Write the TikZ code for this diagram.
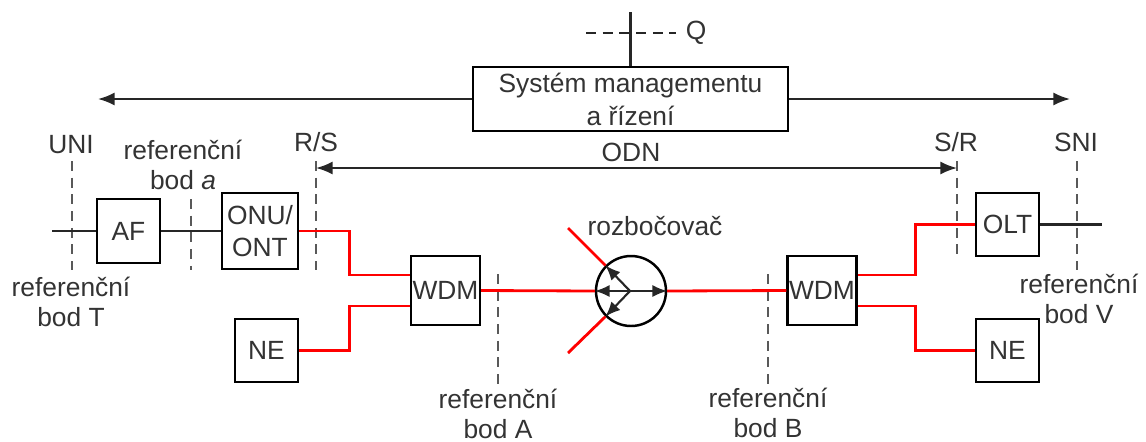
\documentclass[tikz,border=0pt]{standalone}
\usepackage{fontspec}
\setmainfont{Liberation Sans}
\usetikzlibrary{arrows.meta,positioning}
\tikzset{
  block/.style={draw,line width=1.4pt,inner sep=0pt,align=center,text=black!80},
  splitter/.style={draw,circle,line width=1.4pt,inner sep=0pt,minimum size=1.4cm},
  fibre/.style={red,line width=1.6pt},
  wire/.style={line width=1.2pt,black!85},
  refline/.style={gray!70!black,line width=1pt,dash pattern=on 5.7pt off 3.8pt},
  label/.style={inner sep=0pt,align=center,text=black!80,font=\fontsize{15}{17.5}\selectfont},
  tip/.style={-{Latex[length=9.5pt,width=7.5pt]}},
  smalltip/.style={-{Latex[length=8.5pt,width=7pt]}}
}
\begin{document}
\begin{tikzpicture}[x=.02cm,y=-.02cm,font=\fontsize{15}{17.5}\selectfont]
\useasboundingbox (0,0) rectangle (1146,441);

% The boxes
\node[block,minimum width=1.26cm,minimum height=1.28cm] (af) at (128.5,231) {AF};
\node[block,minimum width=1.52cm,minimum height=1.52cm,font=\fontsize{15}{18}\selectfont] (onu) at (260,231) {ONU/\\ONT};
\node[block,minimum width=1.26cm,minimum height=1.26cm] (neA) at (266.5,350.5) {NE};
\node[block,minimum width=1.38cm,minimum height=1.38cm] (wdmA) at (445.5,290.5) {WDM};
\node[splitter] (split) at (631,291) {};
\node[block,minimum width=1.38cm,minimum height=1.38cm] (wdmB) at (822,290.5) {WDM};
\node[block,minimum width=1.26cm,minimum height=1.26cm] (olt) at (1007.5,224.5) {OLT};
\node[block,minimum width=1.26cm,minimum height=1.26cm] (neB) at (1007.5,350.5) {NE};
\node[block,minimum width=6.3cm,minimum height=1.28cm,font=\fontsize{15}{18.8}\selectfont] (mgmt) at (630.5,99) {Systém managementu\\a řízení};

% Free ends
\coordinate (inL) at (52,231);
\coordinate (outR) at (1102,224.5);
\coordinate (mgmtL) at (98,99);
\coordinate (mgmtR) at (1070,99);
\coordinate (qL) at (586,33);
\coordinate (qR) at (676,33);
\coordinate (qT) at (630.5,12);
\coordinate (odnL) at (316,168);
\coordinate (odnR) at (957,168);
\coordinate (upF) at (568,228);
\coordinate (loF) at (568,353);
\coordinate (hub) at (630,291);

% Reference lines
\draw[refline] (72,161) -- (72,270);
\draw[refline] (191,199) -- (191,270);
\draw[refline] (316,161) -- (316,270);
\draw[refline] (498,274) -- (498,389);
\draw[refline] (768,274) -- (768,389);
\draw[refline] (957,161) -- (957,256);
\draw[refline] (1077,161) -- (1077,270);

% Black wires
\draw[wire] (inL) -- (af);
\draw[wire] (af) -- (onu);
\draw[wire] (olt) -- (outR);
\draw[wire,tip] (mgmt) -- (mgmtL);
\draw[wire,tip] (mgmt) -- (mgmtR);
\draw[wire,{Latex[length=9.5pt,width=7.5pt]}-{Latex[length=9.5pt,width=7.5pt]}] (odnL) -- (odnR);
\draw[wire] (qT) -- (mgmt);
\draw[wire,dash pattern=on 5.7pt off 3.8pt] (qL) -- (qR);

% Fibres
\draw[fibre] (onu.east) -- ++(50,0) |- ([yshift=.31cm]wdmA.west);
\draw[fibre] (neA.east) -- ++(50,0) |- ([yshift=-.31cm]wdmA.west);
\draw[fibre] (wdmA.east) -- (split.west);
\draw[fibre] (split.east) -- (wdmB.west);
\draw[fibre] (upF) -- (split.135);
\draw[fibre] (loF) -- (split.225);
\draw[fibre] ([yshift=.31cm]wdmB.east) -- ++(58,0) |- (olt.west);
\draw[fibre] ([yshift=-.31cm]wdmB.east) -- ++(58,0) |- (neB.west);

% Inside the splitter
\draw[wire,{Latex[length=8.5pt,width=7pt]}-{Latex[length=8.5pt,width=7pt]}] (split.west) -- (split.east);
\draw[wire,smalltip] (hub) -- (split.135);
\draw[wire,smalltip] (hub) -- (split.225);

% Labels
\node[label] (q) at (696,33) {Q};
\node[label] (uni) at (71,145) {UNI};
\node[label] (bodLow) at (183,165) {referenční\\bod \textit{a}};
\node[label] (rs) at (316,142) {R/S};
\node[label] (odn) at (631,152) {ODN};
\node[label] (sr) at (956,142) {S/R};
\node[label] (sni) at (1076,142) {SNI};
\node[label] (bodT) at (71,302) {referenční\\bod T};
\node[label] (rozb) at (655,226) {rozbočovač};
\node[label] (bodA) at (498,414) {referenční\\bod A};
\node[label] (bodB) at (768,413) {referenční\\bod B};
\node[label] (bodV) at (1079,299) {referenční\\bod V};
\end{tikzpicture}
\end{document}
